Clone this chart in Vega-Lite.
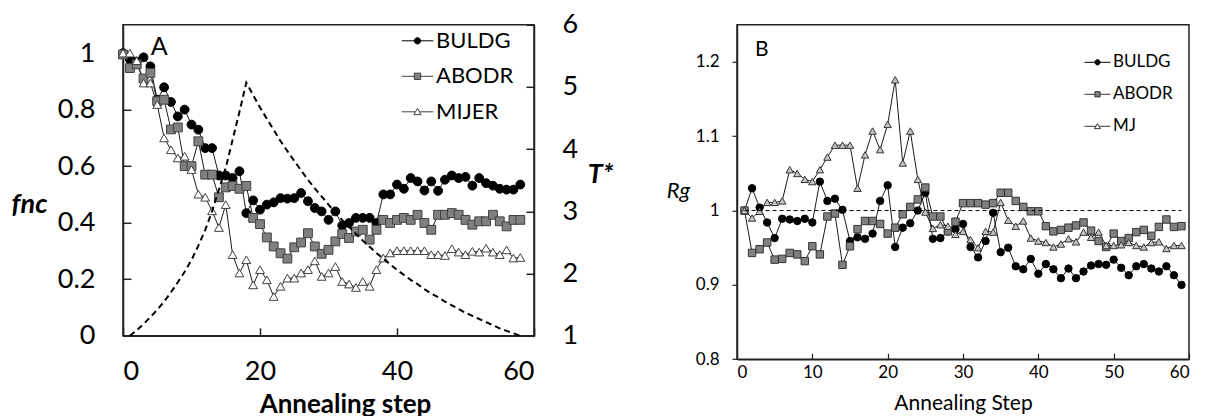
{
  "$schema": "https://vega.github.io/schema/vega-lite/v6.json",
  "background": "white",
  "padding": {"left": 10, "top": 9.8, "right": 4, "bottom": 0},
  "config": {
    "font": "Lato",
    "view": {"stroke": "#222", "strokeWidth": 1.5},
    "axis": {"grid": false, "domainColor": "#222", "tickColor": "#222", "labelColor": "black", "titleColor": "black", "labelFont": "Lato", "titleFont": "Lato"}
  },
  "datasets": {
    "a": [
      {"s":"BULDG","x":0,"v":1.0},{"s":"BULDG","x":1,"v":0.977},{"s":"BULDG","x":2,"v":0.97},{"s":"BULDG","x":3,"v":0.985},{"s":"BULDG","x":4,"v":0.953},{"s":"BULDG","x":5,"v":0.835},{"s":"BULDG","x":6,"v":0.879},{"s":"BULDG","x":7,"v":0.827},{"s":"BULDG","x":8,"v":0.776},{"s":"BULDG","x":9,"v":0.8},
      {"s":"BULDG","x":10,"v":0.747},{"s":"BULDG","x":11,"v":0.729},{"s":"BULDG","x":12,"v":0.664},{"s":"BULDG","x":13,"v":0.664},{"s":"BULDG","x":14,"v":0.567},{"s":"BULDG","x":15,"v":0.567},{"s":"BULDG","x":16,"v":0.558},{"s":"BULDG","x":17,"v":0.582},{"s":"BULDG","x":18,"v":0.434},{"s":"BULDG","x":19,"v":0.479},
      {"s":"BULDG","x":20,"v":0.446},{"s":"BULDG","x":21,"v":0.464},{"s":"BULDG","x":22,"v":0.472},{"s":"BULDG","x":23,"v":0.487},{"s":"BULDG","x":24,"v":0.485},{"s":"BULDG","x":25,"v":0.487},{"s":"BULDG","x":26,"v":0.505},{"s":"BULDG","x":27,"v":0.476},{"s":"BULDG","x":28,"v":0.452},{"s":"BULDG","x":29,"v":0.44},
      {"s":"BULDG","x":30,"v":0.41},{"s":"BULDG","x":31,"v":0.44},{"s":"BULDG","x":32,"v":0.39},{"s":"BULDG","x":33,"v":0.399},{"s":"BULDG","x":34,"v":0.417},{"s":"BULDG","x":35,"v":0.417},{"s":"BULDG","x":36,"v":0.417},{"s":"BULDG","x":37,"v":0.399},{"s":"BULDG","x":38,"v":0.5},{"s":"BULDG","x":39,"v":0.5},
      {"s":"BULDG","x":40,"v":0.535},{"s":"BULDG","x":41,"v":0.52},{"s":"BULDG","x":42,"v":0.558},{"s":"BULDG","x":43,"v":0.546},{"s":"BULDG","x":44,"v":0.514},{"s":"BULDG","x":45,"v":0.546},{"s":"BULDG","x":46,"v":0.513},{"s":"BULDG","x":47,"v":0.552},{"s":"BULDG","x":48,"v":0.567},{"s":"BULDG","x":49,"v":0.558},
      {"s":"BULDG","x":50,"v":0.562},{"s":"BULDG","x":51,"v":0.531},{"s":"BULDG","x":52,"v":0.558},{"s":"BULDG","x":53,"v":0.54},{"s":"BULDG","x":54,"v":0.531},{"s":"BULDG","x":55,"v":0.52},{"s":"BULDG","x":56,"v":0.517},{"s":"BULDG","x":57,"v":0.517},{"s":"BULDG","x":58,"v":0.535},
      {"s":"ABODR","x":0,"v":0.995},{"s":"ABODR","x":1,"v":0.947},{"s":"ABODR","x":2,"v":0.96},{"s":"ABODR","x":3,"v":0.91},{"s":"ABODR","x":4,"v":0.93},{"s":"ABODR","x":5,"v":0.83},{"s":"ABODR","x":6,"v":0.835},{"s":"ABODR","x":7,"v":0.73},{"s":"ABODR","x":8,"v":0.737},{"s":"ABODR","x":9,"v":0.6},
      {"s":"ABODR","x":10,"v":0.6},{"s":"ABODR","x":11,"v":0.688},{"s":"ABODR","x":12,"v":0.57},{"s":"ABODR","x":13,"v":0.57},{"s":"ABODR","x":14,"v":0.49},{"s":"ABODR","x":15,"v":0.525},{"s":"ABODR","x":16,"v":0.53},{"s":"ABODR","x":17,"v":0.52},{"s":"ABODR","x":18,"v":0.53},{"s":"ABODR","x":19,"v":0.417},
      {"s":"ABODR","x":20,"v":0.395},{"s":"ABODR","x":21,"v":0.348},{"s":"ABODR","x":22,"v":0.316},{"s":"ABODR","x":23,"v":0.292},{"s":"ABODR","x":24,"v":0.273},{"s":"ABODR","x":25,"v":0.313},{"s":"ABODR","x":26,"v":0.33},{"s":"ABODR","x":27,"v":0.363},{"s":"ABODR","x":28,"v":0.316},{"s":"ABODR","x":29,"v":0.29},
      {"s":"ABODR","x":30,"v":0.304},{"s":"ABODR","x":31,"v":0.334},{"s":"ABODR","x":32,"v":0.36},{"s":"ABODR","x":33,"v":0.346},{"s":"ABODR","x":34,"v":0.369},{"s":"ABODR","x":35,"v":0.375},{"s":"ABODR","x":36,"v":0.34},{"s":"ABODR","x":37,"v":0.375},{"s":"ABODR","x":38,"v":0.41},{"s":"ABODR","x":39,"v":0.399},
      {"s":"ABODR","x":40,"v":0.41},{"s":"ABODR","x":41,"v":0.417},{"s":"ABODR","x":42,"v":0.41},{"s":"ABODR","x":43,"v":0.428},{"s":"ABODR","x":44,"v":0.399},{"s":"ABODR","x":45,"v":0.375},{"s":"ABODR","x":46,"v":0.428},{"s":"ABODR","x":47,"v":0.428},{"s":"ABODR","x":48,"v":0.434},{"s":"ABODR","x":49,"v":0.428},
      {"s":"ABODR","x":50,"v":0.41},{"s":"ABODR","x":51,"v":0.393},{"s":"ABODR","x":52,"v":0.405},{"s":"ABODR","x":53,"v":0.405},{"s":"ABODR","x":54,"v":0.428},{"s":"ABODR","x":55,"v":0.405},{"s":"ABODR","x":56,"v":0.387},{"s":"ABODR","x":57,"v":0.41},{"s":"ABODR","x":58,"v":0.41},
      {"s":"MIJER","x":0,"v":1.0},{"s":"MIJER","x":1,"v":1.0},{"s":"MIJER","x":2,"v":0.973},{"s":"MIJER","x":3,"v":0.894},{"s":"MIJER","x":4,"v":0.894},{"s":"MIJER","x":5,"v":0.818},{"s":"MIJER","x":6,"v":0.7},{"s":"MIJER","x":7,"v":0.658},{"s":"MIJER","x":8,"v":0.629},{"s":"MIJER","x":9,"v":0.635},
      {"s":"MIJER","x":10,"v":0.588},{"s":"MIJER","x":11,"v":0.501},{"s":"MIJER","x":12,"v":0.49},{"s":"MIJER","x":13,"v":0.442},{"s":"MIJER","x":14,"v":0.383},{"s":"MIJER","x":15,"v":0.464},{"s":"MIJER","x":16,"v":0.287},{"s":"MIJER","x":17,"v":0.222},{"s":"MIJER","x":18,"v":0.269},{"s":"MIJER","x":19,"v":0.18},
      {"s":"MIJER","x":20,"v":0.234},{"s":"MIJER","x":21,"v":0.198},{"s":"MIJER","x":22,"v":0.139},{"s":"MIJER","x":23,"v":0.175},{"s":"MIJER","x":24,"v":0.204},{"s":"MIJER","x":25,"v":0.204},{"s":"MIJER","x":26,"v":0.222},{"s":"MIJER","x":27,"v":0.234},{"s":"MIJER","x":28,"v":0.265},{"s":"MIJER","x":29,"v":0.21},
      {"s":"MIJER","x":30,"v":0.222},{"s":"MIJER","x":31,"v":0.245},{"s":"MIJER","x":32,"v":0.192},{"s":"MIJER","x":33,"v":0.183},{"s":"MIJER","x":34,"v":0.171},{"s":"MIJER","x":35,"v":0.192},{"s":"MIJER","x":36,"v":0.175},{"s":"MIJER","x":37,"v":0.234},{"s":"MIJER","x":38,"v":0.275},{"s":"MIJER","x":39,"v":0.293},
      {"s":"MIJER","x":40,"v":0.301},{"s":"MIJER","x":41,"v":0.301},{"s":"MIJER","x":42,"v":0.301},{"s":"MIJER","x":43,"v":0.301},{"s":"MIJER","x":44,"v":0.301},{"s":"MIJER","x":45,"v":0.287},{"s":"MIJER","x":46,"v":0.287},{"s":"MIJER","x":47,"v":0.284},{"s":"MIJER","x":48,"v":0.308},{"s":"MIJER","x":49,"v":0.296},
      {"s":"MIJER","x":50,"v":0.287},{"s":"MIJER","x":51,"v":0.299},{"s":"MIJER","x":52,"v":0.296},{"s":"MIJER","x":53,"v":0.31},{"s":"MIJER","x":54,"v":0.296},{"s":"MIJER","x":55,"v":0.287},{"s":"MIJER","x":56,"v":0.304},{"s":"MIJER","x":57,"v":0.275},{"s":"MIJER","x":58,"v":0.277}
    ],
    "t": [
      {"x":1,"T":1.0},{"x":2,"T":1.09},{"x":3,"T":1.19},{"x":4,"T":1.3},{"x":5,"T":1.42},{"x":6,"T":1.55},{"x":7,"T":1.7},{"x":8,"T":1.86},{"x":9,"T":2.03},
      {"x":10,"T":2.22},{"x":11,"T":2.45},{"x":12,"T":2.7},{"x":13,"T":3.0},{"x":14,"T":3.35},{"x":15,"T":3.7},{"x":16,"T":4.15},{"x":17,"T":4.6},{"x":18,"T":5.07},
      {"x":19,"T":4.87},{"x":20,"T":4.67},{"x":21,"T":4.49},{"x":22,"T":4.31},{"x":23,"T":4.13},{"x":24,"T":3.97},{"x":25,"T":3.81},{"x":26,"T":3.66},{"x":27,"T":3.51},{"x":28,"T":3.37},
      {"x":29,"T":3.24},{"x":30,"T":3.11},{"x":31,"T":2.98},{"x":32,"T":2.86},{"x":33,"T":2.75},{"x":34,"T":2.64},{"x":35,"T":2.53},{"x":36,"T":2.43},{"x":37,"T":2.33},{"x":38,"T":2.24},
      {"x":39,"T":2.15},{"x":40,"T":2.06},{"x":41,"T":1.98},{"x":42,"T":1.9},{"x":43,"T":1.83},{"x":44,"T":1.75},{"x":45,"T":1.68},{"x":46,"T":1.62},{"x":47,"T":1.55},{"x":48,"T":1.49},
      {"x":49,"T":1.43},{"x":50,"T":1.37},{"x":51,"T":1.32},{"x":52,"T":1.27},{"x":53,"T":1.22},{"x":54,"T":1.17},{"x":55,"T":1.12},{"x":56,"T":1.08},{"x":57,"T":1.04},{"x":58,"T":1.0}
    ],
    "b": [
      {"s":"BULDG","x":1,"v":1.0},{"s":"BULDG","x":2,"v":1.03},{"s":"BULDG","x":3,"v":1.004},{"s":"BULDG","x":4,"v":0.984},{"s":"BULDG","x":5,"v":0.963},{"s":"BULDG","x":6,"v":0.989},{"s":"BULDG","x":7,"v":0.988},{"s":"BULDG","x":8,"v":0.986},{"s":"BULDG","x":9,"v":0.989},{"s":"BULDG","x":10,"v":0.984},
      {"s":"BULDG","x":11,"v":1.039},{"s":"BULDG","x":12,"v":1.013},{"s":"BULDG","x":13,"v":1.016},{"s":"BULDG","x":14,"v":1.001},{"s":"BULDG","x":15,"v":0.959},{"s":"BULDG","x":16,"v":0.964},{"s":"BULDG","x":17,"v":0.962},{"s":"BULDG","x":18,"v":0.969},{"s":"BULDG","x":19,"v":1.013},{"s":"BULDG","x":20,"v":1.034},
      {"s":"BULDG","x":21,"v":0.951},{"s":"BULDG","x":22,"v":0.977},{"s":"BULDG","x":23,"v":0.983},{"s":"BULDG","x":24,"v":1.0},{"s":"BULDG","x":25,"v":1.024},{"s":"BULDG","x":26,"v":0.962},{"s":"BULDG","x":27,"v":0.963},{"s":"BULDG","x":28,"v":0.972},{"s":"BULDG","x":29,"v":0.975},{"s":"BULDG","x":30,"v":0.982},
      {"s":"BULDG","x":31,"v":0.951},{"s":"BULDG","x":32,"v":0.937},{"s":"BULDG","x":33,"v":0.959},{"s":"BULDG","x":34,"v":0.997},{"s":"BULDG","x":35,"v":0.944},{"s":"BULDG","x":36,"v":0.95},{"s":"BULDG","x":37,"v":0.925},{"s":"BULDG","x":38,"v":0.921},{"s":"BULDG","x":39,"v":0.935},{"s":"BULDG","x":40,"v":0.915},
      {"s":"BULDG","x":41,"v":0.928},{"s":"BULDG","x":42,"v":0.921},{"s":"BULDG","x":43,"v":0.909},{"s":"BULDG","x":44,"v":0.922},{"s":"BULDG","x":45,"v":0.909},{"s":"BULDG","x":46,"v":0.918},{"s":"BULDG","x":47,"v":0.926},{"s":"BULDG","x":48,"v":0.928},{"s":"BULDG","x":49,"v":0.927},{"s":"BULDG","x":50,"v":0.934},
      {"s":"BULDG","x":51,"v":0.923},{"s":"BULDG","x":52,"v":0.913},{"s":"BULDG","x":53,"v":0.925},{"s":"BULDG","x":54,"v":0.928},{"s":"BULDG","x":55,"v":0.922},{"s":"BULDG","x":56,"v":0.918},{"s":"BULDG","x":57,"v":0.925},{"s":"BULDG","x":58,"v":0.913},{"s":"BULDG","x":59,"v":0.9},
      {"s":"ABODR","x":1,"v":1.0},{"s":"ABODR","x":2,"v":0.943},{"s":"ABODR","x":3,"v":0.948},{"s":"ABODR","x":4,"v":0.957},{"s":"ABODR","x":5,"v":0.934},{"s":"ABODR","x":6,"v":0.935},{"s":"ABODR","x":7,"v":0.943},{"s":"ABODR","x":8,"v":0.941},{"s":"ABODR","x":9,"v":0.932},{"s":"ABODR","x":10,"v":0.952},
      {"s":"ABODR","x":11,"v":0.941},{"s":"ABODR","x":12,"v":0.992},{"s":"ABODR","x":13,"v":0.996},{"s":"ABODR","x":14,"v":0.927},{"s":"ABODR","x":15,"v":0.952},{"s":"ABODR","x":16,"v":0.975},{"s":"ABODR","x":17,"v":0.986},{"s":"ABODR","x":18,"v":0.986},{"s":"ABODR","x":19,"v":0.982},{"s":"ABODR","x":20,"v":0.969},
      {"s":"ABODR","x":21,"v":0.977},{"s":"ABODR","x":22,"v":0.995},{"s":"ABODR","x":23,"v":1.005},{"s":"ABODR","x":24,"v":1.015},{"s":"ABODR","x":25,"v":1.031},{"s":"ABODR","x":26,"v":0.992},{"s":"ABODR","x":27,"v":0.992},{"s":"ABODR","x":28,"v":0.972},{"s":"ABODR","x":29,"v":0.985},{"s":"ABODR","x":30,"v":1.01},
      {"s":"ABODR","x":31,"v":1.01},{"s":"ABODR","x":32,"v":1.01},{"s":"ABODR","x":33,"v":1.008},{"s":"ABODR","x":34,"v":1.01},{"s":"ABODR","x":35,"v":1.024},{"s":"ABODR","x":36,"v":1.024},{"s":"ABODR","x":37,"v":1.013},{"s":"ABODR","x":38,"v":1.005},{"s":"ABODR","x":39,"v":0.999},{"s":"ABODR","x":40,"v":0.999},
      {"s":"ABODR","x":41,"v":0.979},{"s":"ABODR","x":42,"v":0.972},{"s":"ABODR","x":43,"v":0.974},{"s":"ABODR","x":44,"v":0.977},{"s":"ABODR","x":45,"v":0.98},{"s":"ABODR","x":46,"v":0.984},{"s":"ABODR","x":47,"v":0.973},{"s":"ABODR","x":48,"v":0.959},{"s":"ABODR","x":49,"v":0.951},{"s":"ABODR","x":50,"v":0.969},
      {"s":"ABODR","x":51,"v":0.959},{"s":"ABODR","x":52,"v":0.963},{"s":"ABODR","x":53,"v":0.971},{"s":"ABODR","x":54,"v":0.974},{"s":"ABODR","x":55,"v":0.966},{"s":"ABODR","x":56,"v":0.978},{"s":"ABODR","x":57,"v":0.988},{"s":"ABODR","x":58,"v":0.978},{"s":"ABODR","x":59,"v":0.979},
      {"s":"MJ","x":1,"v":1.0},{"s":"MJ","x":2,"v":0.99},{"s":"MJ","x":3,"v":0.999},{"s":"MJ","x":4,"v":1.011},{"s":"MJ","x":5,"v":1.011},{"s":"MJ","x":6,"v":1.013},{"s":"MJ","x":7,"v":1.055},{"s":"MJ","x":8,"v":1.05},{"s":"MJ","x":9,"v":1.042},{"s":"MJ","x":10,"v":1.039},
      {"s":"MJ","x":11,"v":1.055},{"s":"MJ","x":12,"v":1.072},{"s":"MJ","x":13,"v":1.088},{"s":"MJ","x":14,"v":1.088},{"s":"MJ","x":15,"v":1.088},{"s":"MJ","x":16,"v":1.03},{"s":"MJ","x":17,"v":1.075},{"s":"MJ","x":18,"v":1.107},{"s":"MJ","x":19,"v":1.082},{"s":"MJ","x":20,"v":1.116},
      {"s":"MJ","x":21,"v":1.176},{"s":"MJ","x":22,"v":1.064},{"s":"MJ","x":23,"v":1.107},{"s":"MJ","x":24,"v":1.042},{"s":"MJ","x":25,"v":0.998},{"s":"MJ","x":26,"v":0.976},{"s":"MJ","x":27,"v":0.981},{"s":"MJ","x":28,"v":0.979},{"s":"MJ","x":29,"v":0.968},{"s":"MJ","x":30,"v":0.972},
      {"s":"MJ","x":31,"v":0.961},{"s":"MJ","x":32,"v":0.95},{"s":"MJ","x":33,"v":0.972},{"s":"MJ","x":34,"v":0.971},{"s":"MJ","x":35,"v":1.011},{"s":"MJ","x":36,"v":0.987},{"s":"MJ","x":37,"v":0.979},{"s":"MJ","x":38,"v":0.986},{"s":"MJ","x":39,"v":0.963},{"s":"MJ","x":40,"v":0.959},
      {"s":"MJ","x":41,"v":0.957},{"s":"MJ","x":42,"v":0.951},{"s":"MJ","x":43,"v":0.955},{"s":"MJ","x":44,"v":0.962},{"s":"MJ","x":45,"v":0.958},{"s":"MJ","x":46,"v":0.971},{"s":"MJ","x":47,"v":0.964},{"s":"MJ","x":48,"v":0.971},{"s":"MJ","x":49,"v":0.953},{"s":"MJ","x":50,"v":0.953},
      {"s":"MJ","x":51,"v":0.954},{"s":"MJ","x":52,"v":0.957},{"s":"MJ","x":53,"v":0.953},{"s":"MJ","x":54,"v":0.951},{"s":"MJ","x":55,"v":0.957},{"s":"MJ","x":56,"v":0.958},{"s":"MJ","x":57,"v":0.949},{"s":"MJ","x":58,"v":0.953},{"s":"MJ","x":59,"v":0.953}
    ]
  },
  "spacing": 51,
  "resolve": {
    "scale": {"shape": "independent", "fill": "independent", "stroke": "independent"},
    "legend": {"shape": "independent", "fill": "independent", "stroke": "independent"}
  },
  "hconcat": [
    {
      "width": 411,
      "height": 311,
      "layer": [
        {
          "data": {"name": "a"},
          "resolve": {
            "scale": {"shape": "independent", "fill": "independent", "stroke": "independent"},
            "legend": {"shape": "independent", "fill": "independent", "stroke": "independent"}
          },
          "layer": [
            {
              "mark": {"type": "line", "stroke": "#1a1a1a", "strokeWidth": 1},
              "encoding": {
                "x": {"field": "x", "type": "quantitative", "scale": {"domain": [0, 60], "nice": false},
                  "axis": {"values": [0, 20, 40, 60], "tickSize": -8, "tickWidth": 1.5, "domainWidth": 1.5, "labelFontSize": 27, "labelPadding": 31, "title": "Annealing step", "titleFontSize": 26, "titleFontWeight": "bold", "titleX": 222, "titleAlign": "center", "titleY": 69, "titleBaseline": "middle"}},
                "y": {"field": "v", "type": "quantitative", "scale": {"domain": [0, 1.1], "nice": false},
                  "axis": {"values": [0, 0.2, 0.4, 0.6, 0.8, 1], "format": "~g", "tickSize": -8, "tickWidth": 1.5, "domainWidth": 1.5, "labelFontSize": 27, "labelPadding": 36, "title": "fnc", "titleAngle": 0, "titleX": -94, "titleY": 180, "titleAlign": "center", "titleBaseline": "middle", "titleFontSize": 27, "titleFontStyle": "italic", "titleFontWeight": "bold"}},
                "detail": {"field": "s"}
              }
            },
            {
              "mark": {"type": "point", "filled": true, "size": 78, "strokeWidth": 1, "opacity": 1},
              "encoding": {
                "x": {"field": "x", "type": "quantitative"},
                "y": {"field": "v", "type": "quantitative"},
                "shape": {"field": "s", "type": "nominal", "scale": {"domain": ["BULDG", "ABODR", "MIJER"], "range": ["circle", "square", "triangle-up"]}, "legend": null},
                "fill": {"field": "s", "type": "nominal", "scale": {"domain": ["BULDG", "ABODR", "MIJER"], "range": ["black", "#808080", "white"]}, "legend": null},
                "stroke": {"field": "s", "type": "nominal", "scale": {"domain": ["BULDG", "ABODR", "MIJER"], "range": ["black", "#404040", "#404040"]}, "legend": null}
              }
            },
            {
              "transform": [{"filter": "datum.x < 0"}],
              "mark": {"type": "point", "filled": true, "size": 1000, "strokeWidth": 1, "opacity": 1},
              "encoding": {
                "x": {"field": "x", "type": "quantitative"},
                "y": {"field": "v", "type": "quantitative"},
                "shape": {"field": "s", "type": "nominal", "scale": {"domain": ["BULDG", "ABODR", "MIJER"], "range": ["M-1,0H1M0.2,0A0.2,0.2,0,1,1,-0.2,0A0.2,0.2,0,1,1,0.2,0Z", "M-1,0H-0.2M0.2,0H1M-0.2,-0.2H0.2V0.2H-0.2Z", "M-1,0H-0.12M0.12,0H1M0,-0.21L0.23,0.18H-0.23Z"]},
                  "legend": {"orient": "none", "legendX": 278, "legendY": -0.5, "title": null, "padding": 0, "symbolSize": 1000, "symbolStrokeWidth": 1, "labelFontSize": 22, "labelFont": "Lato", "labelColor": "black", "labelOffset": 2, "rowPadding": 7.5}},
                "fill": {"field": "s", "type": "nominal", "scale": {"domain": ["BULDG", "ABODR", "MIJER"], "range": ["black", "#808080", "white"]},
                  "legend": {"orient": "none", "legendX": 278, "legendY": -0.5, "title": null, "padding": 0, "symbolSize": 1000, "symbolStrokeWidth": 1, "labelFontSize": 22, "labelFont": "Lato", "labelColor": "black", "labelOffset": 2, "rowPadding": 7.5}},
                "stroke": {"field": "s", "type": "nominal", "scale": {"domain": ["BULDG", "ABODR", "MIJER"], "range": ["black", "#404040", "#404040"]},
                  "legend": {"orient": "none", "legendX": 278, "legendY": -0.5, "title": null, "padding": 0, "symbolSize": 1000, "symbolStrokeWidth": 1, "labelFontSize": 22, "labelFont": "Lato", "labelColor": "black", "labelOffset": 2, "rowPadding": 7.5}}
              }
            },
            {
              "data": {"values": [{}]},
              "mark": {"type": "text", "text": "A", "fontSize": 25, "font": "Lato", "color": "black", "align": "center", "baseline": "middle"},
              "encoding": {"x": {"datum": 5.3}, "y": {"datum": 1.022}}
            }
          ]
        },
        {
          "data": {"name": "t"},
          "mark": {"type": "line", "stroke": "black", "strokeWidth": 2, "strokeDash": [6, 4]},
          "encoding": {
            "x": {"field": "x", "type": "quantitative"},
            "y": {"field": "T", "type": "quantitative", "scale": {"domain": [1, 6], "nice": false, "zero": false},
              "axis": {"orient": "right", "values": [1, 2, 3, 4, 5, 6], "tickSize": -8, "tickWidth": 1.5, "domainWidth": 1.5, "labelFontSize": 27, "labelPadding": 36, "title": "T*", "titleAngle": 0, "titleX": 66, "titleY": 150, "titleAlign": "center", "titleBaseline": "middle", "titleFontSize": 27, "titleFontStyle": "italic", "titleFontWeight": "bold"}}
          }
        }
      ],
      "resolve": {"scale": {"y": "independent"}}
    },
    {
      "width": 452,
      "height": 334.4,
      "title": {"text": " ", "fontSize": 2, "offset": 4.5},
      "resolve": {
        "scale": {"shape": "independent", "fill": "independent", "stroke": "independent"},
        "legend": {"shape": "independent", "fill": "independent", "stroke": "independent"}
      },
      "layer": [
        {
          "data": {"name": "b"},
          "mark": {"type": "line", "stroke": "#1a1a1a", "strokeWidth": 1},
          "encoding": {
            "x": {"field": "x", "type": "quantitative", "scale": {"domain": [0, 60], "nice": false},
              "axis": {"values": [0, 10, 20, 30, 40, 50, 60], "tickSize": -6, "tickWidth": 1.2, "domainWidth": 1.5, "labelFontSize": 17, "labelPadding": 11, "title": "Annealing Step", "titleFontSize": 21, "titleFontWeight": "normal", "titleY": 44, "titleBaseline": "middle"}},
            "y": {"field": "v", "type": "quantitative", "scale": {"domain": [0.8, 1.25], "nice": false, "zero": false},
              "axis": {"values": [0.8, 0.9, 1, 1.1, 1.2], "format": "~g", "tickSize": 5, "tickWidth": 1.2, "domainWidth": 1.5, "labelFontSize": 17, "labelPadding": 13, "title": "Rg", "titleAngle": 0, "titleX": -59, "titleY": 166, "titleAlign": "center", "titleBaseline": "middle", "titleFontSize": 22, "titleFontStyle": "italic", "titleFontWeight": "normal"}},
            "detail": {"field": "s"}
          }
        },
        {
          "data": {"name": "b"},
          "mark": {"type": "point", "filled": true, "size": 55, "strokeWidth": 1, "opacity": 1},
          "encoding": {
            "x": {"field": "x", "type": "quantitative"},
            "y": {"field": "v", "type": "quantitative"},
            "shape": {"field": "s", "type": "nominal", "scale": {"domain": ["BULDG", "ABODR", "MJ"], "range": ["circle", "square", "triangle-up"]}, "legend": null},
            "fill": {"field": "s", "type": "nominal", "scale": {"domain": ["BULDG", "ABODR", "MJ"], "range": ["black", "#808080", "#c4c4c4"]}, "legend": null},
            "stroke": {"field": "s", "type": "nominal", "scale": {"domain": ["BULDG", "ABODR", "MJ"], "range": ["black", "#333333", "#333333"]}, "legend": null}
          }
        },
        {
          "data": {"name": "b"},
          "transform": [{"filter": "datum.x < 0"}],
          "mark": {"type": "point", "filled": true, "size": 676, "strokeWidth": 1, "opacity": 1},
          "encoding": {
            "x": {"field": "x", "type": "quantitative"},
            "y": {"field": "v", "type": "quantitative"},
            "shape": {"field": "s", "type": "nominal", "scale": {"domain": ["BULDG", "ABODR", "MJ"], "range": ["M-1,0H1M0.2,0A0.2,0.2,0,1,1,-0.2,0A0.2,0.2,0,1,1,0.2,0Z", "M-1,0H-0.2M0.2,0H1M-0.2,-0.2H0.2V0.2H-0.2Z", "M-1,0H-0.12M0.12,0H1M0,-0.21L0.23,0.18H-0.23Z"]},
              "legend": {"orient": "none", "legendX": 347, "legendY": 24, "title": null, "padding": 0, "symbolSize": 676, "symbolStrokeWidth": 1, "labelFontSize": 17, "labelFont": "Lato", "labelColor": "black", "labelOffset": 2, "rowPadding": 10}},
            "fill": {"field": "s", "type": "nominal", "scale": {"domain": ["BULDG", "ABODR", "MJ"], "range": ["black", "#808080", "white"]},
              "legend": {"orient": "none", "legendX": 347, "legendY": 24, "title": null, "padding": 0, "symbolSize": 676, "symbolStrokeWidth": 1, "labelFontSize": 17, "labelFont": "Lato", "labelColor": "black", "labelOffset": 2, "rowPadding": 10}},
            "stroke": {"field": "s", "type": "nominal", "scale": {"domain": ["BULDG", "ABODR", "MJ"], "range": ["black", "#333333", "#333333"]},
              "legend": {"orient": "none", "legendX": 347, "legendY": 24, "title": null, "padding": 0, "symbolSize": 676, "symbolStrokeWidth": 1, "labelFontSize": 17, "labelFont": "Lato", "labelColor": "black", "labelOffset": 2, "rowPadding": 10}}
          }
        },
        {
          "data": {"values": [{}]},
          "mark": {"type": "rule", "stroke": "black", "strokeWidth": 1, "strokeDash": [4, 3]},
          "encoding": {"x": {"datum": 1}, "x2": {"datum": 59}, "y": {"datum": 1}}
        },
        {
          "data": {"values": [{}]},
          "mark": {"type": "text", "text": "B", "fontSize": 21, "font": "Lato", "color": "black", "align": "center", "baseline": "middle"},
          "encoding": {"x": {"datum": 3.3}, "y": {"datum": 1.216}}
        }
      ]
    }
  ]
}
